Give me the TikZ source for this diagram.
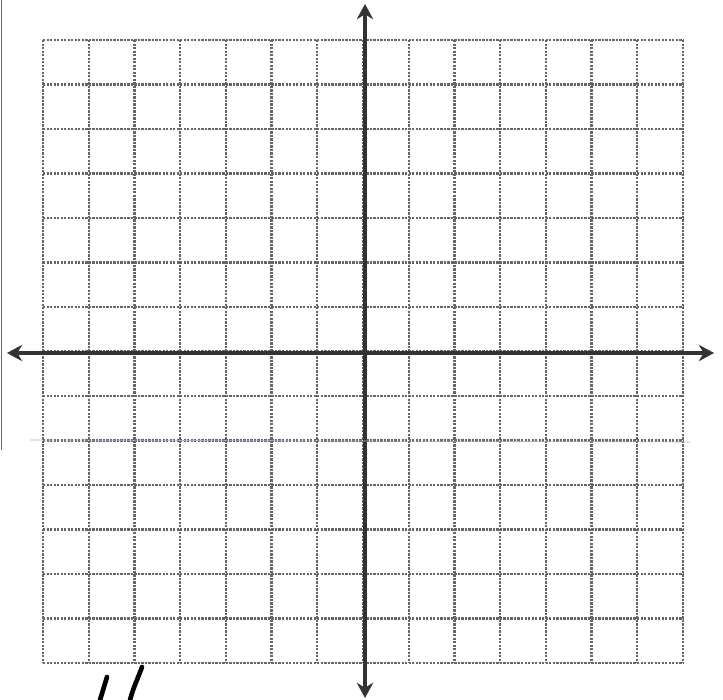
\documentclass[tikz,border=0pt]{standalone}
\usepackage{amsmath}
\usepackage{tikz}
\usepackage{xcolor}
\usetikzlibrary{arrows.meta}

\begin{document}
\begin{tikzpicture}[x=0.03cm, y=-0.03cm,
    gridline/.style={black!60, line width=2pt, densely dotted},
    axisline/.style={black!80, line width=3.6pt, <->, >={Stealth[length=13pt, width=14pt]}}]
        \useasboundingbox[fill=white] (0,0) rectangle (723,700);

        % Grid
        \foreach \i in {0,...,14} {
            \draw[gridline] ({43+\i*45.71},40) -- ({43+\i*45.71},663);
            \draw[gridline] (43,{40+\i*44.5}) -- (683,{40+\i*44.5});
        }

        % Axes
        \coordinate (top) at (365,4);
        \coordinate (bottom) at (365,698);
        \coordinate (left) at (7,353);
        \coordinate (right) at (714,353);
        \draw[axisline] (bottom) -- (top);
        \draw[axisline] (left) -- (right);

        % Scan marks
        \draw[black!60, line width=0.6pt] (1,0) -- (1,450);
        \draw[blue!30!gray!50, line width=0.5pt] (30,440) -- (690,442);

        % Pen strokes
        \draw[line width=4pt, line cap=round] (107,677) -- (100,700);
        \draw[line width=4pt, line cap=round] (142,667) to[out=250, in=75] (130,700);

    \end{tikzpicture}
\end{document}
